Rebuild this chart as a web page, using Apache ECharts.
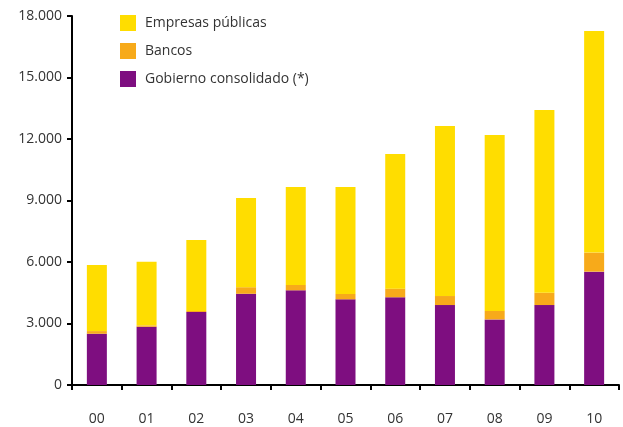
<!DOCTYPE html>
<html>
<head>
<meta charset="utf-8">
<script src="https://cdn.jsdelivr.net/npm/echarts@6/dist/echarts.min.js"></script>
<style>
html,body{margin:0;padding:0;background:#fff;}
#chart{width:623px;height:427px;}
</style>
</head>
<body>
<div id="chart"></div>
<script>
var years = ['00','01','02','03','04','05','06','07','08','09','10'];
var gobierno = [2500, 2840, 3560, 4450, 4620, 4180, 4280, 3900, 3200, 3900, 5530];
var bancos = [130, 70, 50, 320, 260, 260, 420, 440, 410, 600, 930];
var empresas = [3220, 3100, 3460, 4350, 4780, 5220, 6570, 8290, 8590, 8910, 10810];

var font = '"Open Sans", "Noto Sans", sans-serif';

var myChart = echarts.init(document.getElementById('chart'));
myChart.setOption({
    animation: false,
    grid: {
        left: 72,
        right: 4,
        top: 16,
        bottom: 42
    },
    legend: {
        orient: 'vertical',
        left: 115,
        top: 10,
        itemWidth: 16,
        itemHeight: 16,
        itemGap: 12,
        icon: 'rect',
        data: ['Empresas públicas', 'Bancos', 'Gobierno consolidado (*)'],
        textStyle: {
            color: '#333',
            fontSize: 14,
            fontFamily: font,
            padding: [0, 0, 0, 4]
        }
    },
    xAxis: {
        type: 'category',
        data: years,
        axisLine: {lineStyle: {color: '#000', width: 2}},
        axisTick: {show: true, length: 5, lineStyle: {color: '#000', width: 2}},
        axisLabel: {
            color: '#333',
            fontSize: 14,
            fontFamily: font,
            margin: 27
        }
    },
    yAxis: {
        type: 'value',
        min: 0,
        max: 18000,
        interval: 3000,
        axisLine: {show: true, lineStyle: {color: '#000', width: 2}},
        axisTick: {show: true, length: 5, lineStyle: {color: '#000', width: 2}},
        splitLine: {show: false},
        axisLabel: {
            color: '#333',
            fontSize: 14,
            fontFamily: font,
            margin: 10,
            formatter: function (v) {
                return String(v).replace(/\B(?=(\d{3})+(?!\d))/g, '.');
            }
        }
    },
    series: [{
        name: 'Gobierno consolidado (*)',
        type: 'bar',
        stack: 'total',
        barWidth: 20,
        data: gobierno,
        itemStyle: {color: '#7E0E80'}
    }, {
        name: 'Bancos',
        type: 'bar',
        stack: 'total',
        barWidth: 20,
        data: bancos,
        itemStyle: {color: '#F7AA1A'}
    }, {
        name: 'Empresas públicas',
        type: 'bar',
        stack: 'total',
        barWidth: 20,
        data: empresas,
        itemStyle: {color: '#FFDD00'}
    }]
});
</script>
</body>
</html>
